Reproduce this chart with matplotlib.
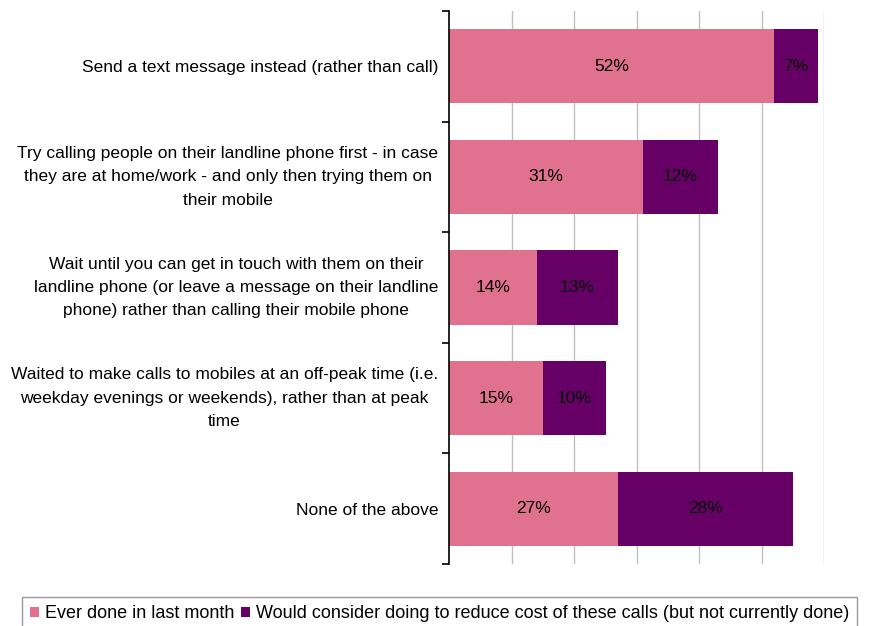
import matplotlib.pyplot as plt
import numpy as np

plt.rcParams['font.family'] = ['Liberation Sans', 'DejaVu Sans']

# Survey answers, top to bottom
labels = [
    "Send a text message instead (rather than call)",
    "Try calling people on their landline phone first - in case\nthey are at home/work - and only then trying them on\ntheir mobile",
    "Wait until you can get in touch with them on their\nlandline phone (or leave a message on their landline\nphone) rather than calling their mobile phone",
    "Waited to make calls to mobiles at an off-peak time (i.e.\nweekday evenings or weekends), rather than at peak\ntime",
    "None of the above",
]
done = [52, 31, 14, 15, 27]
would_consider = [7, 12, 13, 10, 28]

series_names = ["Ever done in last month",
                "Would consider doing to reduce cost of these calls (but not currently done)"]
pink = "#E1728F"
purple = "#660066"
fs = 12.5

fig = plt.figure(figsize=(8.73, 6.26), dpi=100)
ax = fig.add_axes([449.3 / 873, 1 - 564 / 626, 375 / 873, 553 / 626])

y = np.arange(len(labels))
h = 0.67
b1 = ax.barh(y, done, height=h, color=pink, label=series_names[0], zorder=2)
b2 = ax.barh(y, would_consider, left=done, height=h, color=purple,
             label=series_names[1], zorder=2)

for vals, lefts in [(done, [0] * 5), (would_consider, done)]:
    for v, l, yy in zip(vals, lefts, y):
        ax.text(l + v / 2, yy, f"{v}%", ha="center", va="center",
                fontsize=fs, color="black", zorder=3)

ax.set_xlim(0, 60)
ax.set_ylim(len(labels) - 0.5, -0.5)
ax.set_xticks(np.arange(10, 61, 10))
ax.xaxis.grid(True, color="#C0C0C0", linewidth=1, zorder=0)
ax.tick_params(axis="x", length=0, labelbottom=False)

ax.set_yticks(y)
ax.set_yticklabels(labels, fontsize=fs, multialignment="center", linespacing=1.68)
for t in ax.get_yticklabels():
    if "\n" in t.get_text():
        t.set_va("center")
ax.tick_params(axis="y", which="major", length=0, pad=8)
ax.set_yticks(np.arange(-0.5, len(labels)), minor=True)
ax.tick_params(axis="y", which="minor", length=5, width=1.2, direction="out")

for s in ["top", "right", "bottom"]:
    ax.spines[s].set_visible(False)
ax.spines["left"].set_linewidth(1.2)

leg = fig.legend(loc="upper left", bbox_to_anchor=(22 / 873, 1 - 597 / 626),
                 ncol=2, fontsize=13, frameon=True, fancybox=False,
                 handlelength=0.5, handleheight=0.5, handletextpad=0.3,
                 columnspacing=0.4, borderaxespad=0, borderpad=0.45)
leg.get_frame().set_edgecolor("#808080")
leg.get_frame().set_linewidth(1)

fig.savefig("out.png", dpi=100)
